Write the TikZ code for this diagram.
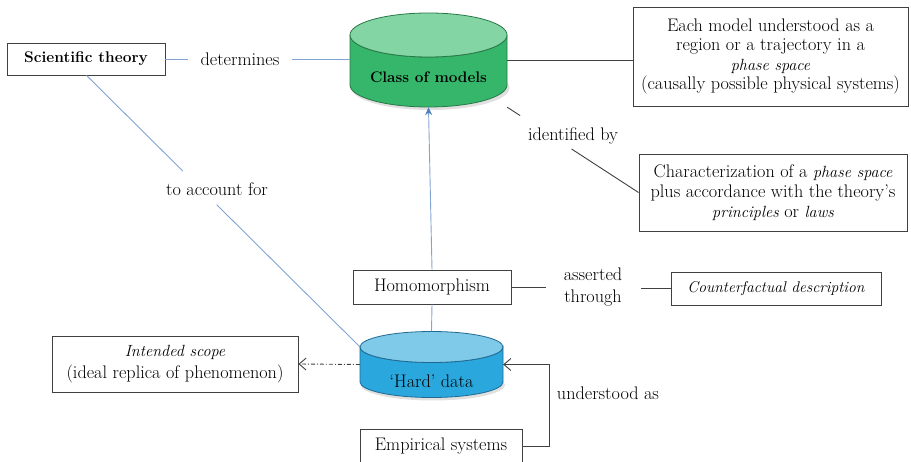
\documentclass[tikz,border=0pt]{standalone}
\usetikzlibrary{arrows.meta,calc}
\definecolor{boxc}{RGB}{64,64,64}
\definecolor{blc}{RGB}{130,164,210}
\definecolor{arrc}{RGB}{79,129,189}
\definecolor{gbody}{RGB}{54,182,106}
\definecolor{gtop}{RGB}{131,213,163}
\definecolor{gline}{RGB}{40,120,72}
\definecolor{bbody}{RGB}{42,168,221}
\definecolor{btop}{RGB}{128,202,233}
\definecolor{bline}{RGB}{32,105,145}
\newcommand\ital[1]{{\fontsize{16.2pt}{20pt}\selectfont\itshape #1}}
\tikzset{
  txt/.style={font=\fontsize{18.2pt}{20pt}\selectfont},
  box/.style={txt, draw=boxc, line width=0.9pt, fill=white, inner sep=0pt, align=center},
  lab/.style={txt, inner sep=0pt, align=center},
  bl/.style={draw=blc, line width=0.9pt},
  dk/.style={draw=boxc, line width=0.9pt},
  hold/.style={inner sep=0pt, draw=none}
}
\begin{document}
\begin{tikzpicture}[x=1pt,y=1pt]
\useasboundingbox (0,0) rectangle (911,461);
\clip (0,0) rectangle (911,461);

% --- Class of models cylinder ---
\fill[black, opacity=0.12] (430.5,373) ellipse[x radius=79pt, y radius=22pt];
\filldraw[fill=gbody, draw=gline, line width=0.8pt] (350,426) -- (350,376)
  arc[start angle=180, end angle=360, x radius=78.5pt, y radius=22pt] -- (507,426)
  arc[start angle=0, end angle=-180, x radius=78.5pt, y radius=22pt] -- cycle;
\filldraw[fill=gtop, draw=gline, line width=0.8pt] (428.5,426) ellipse[x radius=78.5pt, y radius=22pt];
\node[hold, minimum width=157pt, minimum height=94pt] (cls) at (428.5,401) {};
\node[txt, font=\fontsize{15.3pt}{18pt}\selectfont\bfseries] (clst) at (428.5,384) {Class of models};

% --- 'Hard' data cylinder ---
\fill[black, opacity=0.12] (433,76) ellipse[x radius=72pt, y radius=15.5pt];
\filldraw[fill=bbody, draw=bline, line width=0.8pt] (360,114) -- (360,79)
  arc[start angle=180, end angle=360, x radius=71.5pt, y radius=15.5pt] -- (503,114)
  arc[start angle=0, end angle=-180, x radius=71.5pt, y radius=15.5pt] -- cycle;
\filldraw[fill=btop, draw=bline, line width=0.8pt] (431.5,114) ellipse[x radius=71.5pt, y radius=15.5pt];
\node[hold, minimum width=143pt, minimum height=66pt] (hd) at (431.5,96.5) {};
\node[txt] (hdt) at (431.5,80) {`Hard' data};
\coordinate (hdtl) at (360,114);

% --- boxes ---
\node[box, font=\fontsize{15.5pt}{18pt}\selectfont\bfseries, minimum width=158pt, minimum height=32pt] (sci) at (86,402) {Scientific theory};
\node[box, font=\fontsize{18.2pt}{19.3pt}\selectfont, minimum width=275pt, minimum height=99pt] (tr) at (770.5,404.5)
  {Each model understood as a\\ region or a trajectory in a\\ \ital{phase space}\\ (causally possible physical systems)};
\node[box, minimum width=268pt, minimum height=77pt] (chr) at (773,268.5)
  {Characterization of a \ital{phase space}\\ plus accordance with the theory's\\ \ital{principles} or \ital{laws}};
\node[box, minimum width=158pt, minimum height=34pt] (homo) at (432,174) {Homomorphism};
\node[box, minimum width=210pt, minimum height=33pt] (cf) at (776,172.5) {{\fontsize{15.6pt}{20pt}\selectfont\itshape Counterfactual description}};
\node[box, font=\fontsize{18.2pt}{22pt}\selectfont, minimum width=246pt, minimum height=56pt] (isc) at (175,97)
  {\ital{Intended scope}\\ (ideal replica of phenomenon)};
\node[box, minimum width=162pt, minimum height=34pt] (emp) at (441,15) {Empirical systems};

% --- labels ---
\node[lab] (det) at (240,402) {determines};
\node[lab] (acc) at (217,272) {to account for};
\node[lab] (idb) at (573,325) {identified by};
\node[lab, font=\fontsize{18.2pt}{21.5pt}\selectfont] (ast) at (593,174) {asserted\\through};
\node[lab] (und) at (608,68) {understood as};

% --- connectors ---
\draw[bl] (sci.east) -- ([xshift=-12pt]det.west |- sci.east);
\draw[bl] ([xshift=12pt]det.east |- sci.east) -- (cls.west |- sci.east);
\coordinate (sciacc) at ($(sci.south west)+(80,0)$);
\draw[bl] (sciacc) -- ($(sciacc)!0.352!(hdtl)$);
\draw[bl] ($(sciacc)!0.476!(hdtl)$) -- (hdtl);
\draw[dk] (cls.east) -- (cls.east -| tr.west);
\draw[dk] (cls.south east) -- ($(cls.south east)!0.098!(chr.west)$);
\draw[dk] ($(cls.south east)!0.49!(chr.west)$) -- (chr.west);
\draw[draw=blc, line width=0.9pt, -{Stealth[length=8pt,width=7pt,color=arrc,fill=arrc]}] (homo.north) -- (cls.south);
\draw[bl] (homo.south) -- (hd.north);
\draw[dk] (homo.east) -- ([xshift=-18pt]ast.west |- homo.east);
\draw[dk] ([xshift=19pt]ast.east |- cf.west) -- (cf.west);
\draw[dk, dash pattern=on 4pt off 2pt on 1pt off 2pt, -{Straight Barb[length=7pt,width=12pt]}] (hd.west) -- (isc.east);
\draw[dk, -{Straight Barb[length=7pt,width=12pt]}] (emp.east) -- ++(27,0) |- (hd.east);
\end{tikzpicture}
\end{document}
